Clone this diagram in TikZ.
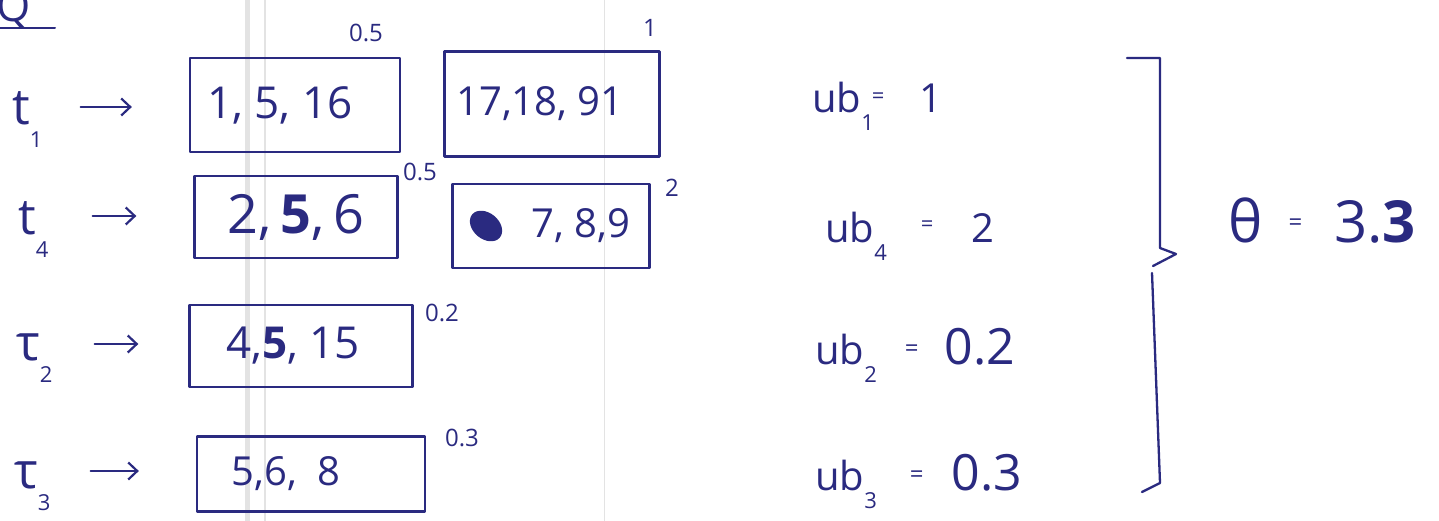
\documentclass[tikz,border=0pt]{standalone}
\usepackage{fontspec}
\setmainfont{Open Sans}
\usetikzlibrary{arrows.meta}
\definecolor{ink}{RGB}{42,42,128}
\newcommand\lowsub[1]{\raisebox{-0.45em}{\fontsize{22}{22}\selectfont #1}}
\newcommand\fs[1]{\fontsize{#1}{#1}\selectfont}
\begin{document}
\begin{tikzpicture}[x=1pt,y=-1pt,
  ink/.style={draw=ink, line width=2.3pt, line cap=round, line join=round},
  setbox/.style={ink, rectangle, inner sep=0pt, text=ink, font=\fs{40}},
  tlab/.style={text=ink, font=\fs{50}, inner sep=0pt, anchor=base west},
  wlab/.style={text=ink, font=\fs{24}, inner sep=0pt},
  ublab/.style={text=ink, font=\fs{40}, inner sep=0pt, anchor=base west},
  arr/.style={ink, line width=2.2pt, -{Straight Barb[length=9pt,width=17pt,line width=2.2pt]}},
  paper/.style={draw=gray!22, line width=#1}]
\useasboundingbox (0,0) rectangle (1439,521);
\fill[white] (0,0) rectangle (1439,521);
% paper margin lines
\draw[paper=5pt] (247,0) -- (247,521);
\draw[paper=2pt] (265,0) -- (265,521);
\draw[paper=1pt] (604,0) -- (604,521);

% heading (cut off at the top)
\node[text=ink, font=\fs{44}, inner sep=0pt, anchor=base west] (head) at (-4,22) {Q\raisebox{0.7em}{\fs{26}2}};
\draw[ink, line width=2pt] (head.base west) ++(2,6) coordinate (hu) -- ++(57,0);

% labels
\node[tlab] (t1) at (12,125) {t\lowsub{1}};
\node[tlab] (t4) at (18,235) {t\lowsub{4}};
\node[tlab] (t2) at (16,360) {τ\lowsub{2}};
\node[tlab] (t3) at (14,488) {τ\lowsub{3}};

% boxes
\node[setbox, minimum width=210pt, minimum height=94pt, font=\fs{44}] (b11) at (295,105) {1, 5, 16\hspace*{30pt}};
\node[setbox, minimum width=215pt, minimum height=105pt] (b12) at (552,104) {17,18, 91\hspace*{24pt}};
\node[setbox, minimum width=203pt, minimum height=82pt, font=\fs{54}] (b41) at (296,217) {2,\,\textbf{5},\,6};
\node[setbox, minimum width=197pt, minimum height=84pt] (b42) at (551,226) {\hspace*{60pt}7, 8,9};
\node[setbox, minimum width=223pt, minimum height=82pt, font=\fs{44}] (b21) at (301,346) {4,\textbf{5},\ 15\hspace*{16pt}};
\node[setbox, minimum width=228pt, minimum height=75pt, font=\fs{40}] (b31) at (311,474) {5,6, \ 8\hspace*{50pt}};

% scribbled-out digit
\fill[fill=ink] (486,226) ellipse [x radius=18pt, y radius=13pt, rotate=-40];

% arrows
\draw[arr, shorten <=38pt, shorten >=57pt] ([yshift=18pt]t1.base east) -- ([yshift=18pt]t1.base east -| b11.west);
\draw[arr, shorten <=44pt, shorten >=57pt] ([yshift=19pt]t4.base east) -- ([yshift=19pt]t4.base east -| b41.west);
\draw[arr, shorten <=42pt, shorten >=50pt] ([yshift=16pt]t2.base east) -- ([yshift=16pt]t2.base east -| b21.west);
\draw[arr, shorten <=40pt, shorten >=57pt] ([yshift=17pt]t3.base east) -- ([yshift=17pt]t3.base east -| b31.west);

% weights
\node[wlab] (w11) at (366,33) {0.5};
\node[wlab] (w12) at (650,28) {1};
\node[wlab] (w41) at (420,172) {0.5};
\node[wlab] (w42) at (672,188) {2};
\node[wlab] (w21) at (442,313) {0.2};
\node[wlab] (w31) at (462,438) {0.3};

% upper bounds
\node[ublab] (u1) at (812,113) {ub\lowsub{1}\hspace{-2pt}{\fs{22}\raisebox{0.45em}{=}}\hspace{35pt}1};
\node[ublab] (u4) at (825,243) {ub\lowsub{4}\hspace{34pt}{\fs{22}\raisebox{0.5em}{=}}\hspace{38pt}2};
\node[ublab] (u2) at (815,364) {ub\lowsub{2}\hspace{28pt}{\fs{24}\raisebox{0.3em}{=}}\hspace{26pt}{\fs{50}0.2}};
\node[ublab] (u3) at (815,490) {ub\lowsub{3}\hspace{33pt}{\fs{24}\raisebox{0.3em}{=}}\hspace{28pt}{\fs{50}0.3}};

% brace
\coordinate (bt) at (1160,58);
\coordinate (bm) at (1176,254);
\coordinate (bb) at (1160,483);
\draw[ink] (1127,58) -- (bt) -- (1160,248) -- (bm) -- (1153,266);
\draw[ink] (1152,273) -- (bb) -- (1142,492);

\node[text=ink, font=\fs{58}, inner sep=0pt, anchor=base west] (theta) at (1228,243) {θ\hspace{26pt}{\fs{24}\raisebox{0.5em}{=}}\hspace{32pt}3.\textbf{3}};
\end{tikzpicture}
\end{document}
